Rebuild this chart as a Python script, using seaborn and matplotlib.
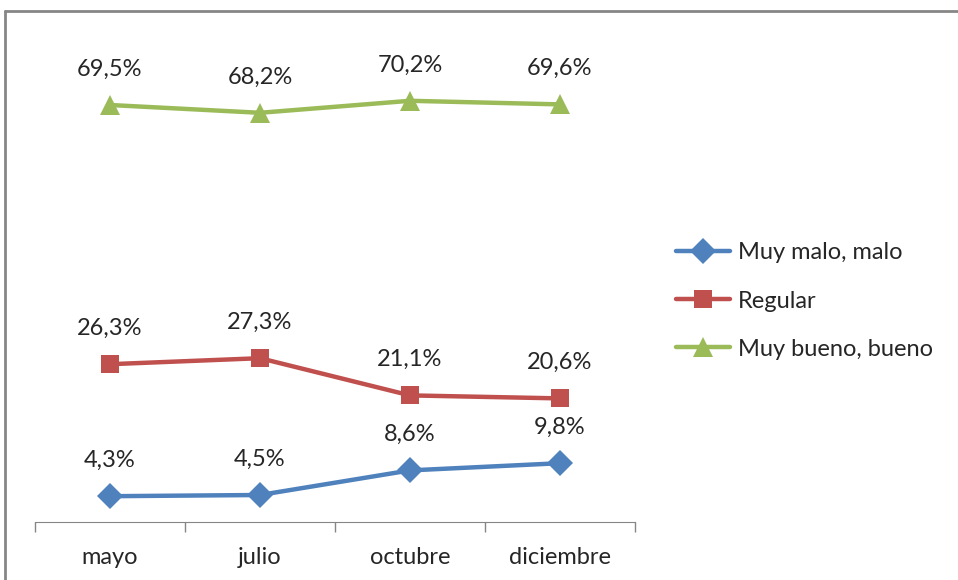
import pandas as pd
import numpy as np
import matplotlib.pyplot as plt
import seaborn as sns

meses = ["mayo", "julio", "octubre", "diciembre"]
muy_malo = [4.3, 4.5, 8.6, 9.8]
regular = [26.3, 27.3, 21.1, 20.6]
muy_bueno = [69.5, 68.2, 70.2, 69.6]

series = ["Muy malo, malo", "Regular", "Muy bueno, bueno"]
colores = ["#4F81BD", "#C0504D", "#9BBB59"]
marcadores = ["D", "s", "^"]
tamanos = [13, 13, 14]

sns.set_style("white")
plt.rcParams["font.family"] = ["Lato", "DejaVu Sans"]

fig = plt.figure(figsize=(9.58, 5.8), dpi=100)
ax = fig.add_axes([0.0365, 0.1, 0.6263, 0.8276])

pos = np.arange(len(meses))
for nombre, valores, c, m, ms in zip(series, [muy_malo, regular, muy_bueno], colores, marcadores, tamanos):
    df = pd.DataFrame({"x": pos, "valor": valores})
    sns.lineplot(data=df, x="x", y="valor", ax=ax, color=c, marker=m, markersize=ms,
                 markeredgewidth=0, linewidth=3.2, label=nombre, sort=False)
    for xi, v in zip(pos, valores):
        ax.annotate(f"{v:.1f}%".replace(".", ","), (xi, v), xytext=(0, 21),
                    textcoords="offset points", ha="center", va="baseline", fontsize=17)

ax.set_xlim(-0.5, 3.5)
ax.set_ylim(0, 80)
ax.set_xticks(pos)
ax.set_xticklabels(meses, fontsize=17)
ax.set_xticks(np.arange(-0.5, 4, 1), minor=True)
ax.tick_params(axis="x", which="both", bottom=True)
ax.tick_params(axis="x", which="major", length=0, pad=18)
ax.tick_params(axis="x", which="minor", length=7, color="#868686", width=1, direction="out")
ax.set_yticks([])
ax.set_xlabel("")
ax.set_ylabel("")
for s in ["top", "right", "left"]:
    ax.spines[s].set_visible(False)
ax.spines["bottom"].set_color("#868686")

ax.legend(loc="center left", bbox_to_anchor=(0.683, 0.481), bbox_transform=fig.transFigure,
          frameon=False, fontsize=17, handlelength=2.3, labelspacing=1.15, handletextpad=0.35)

# marco exterior estilo Excel
fig.add_artist(plt.Line2D([0.0055, 1.0], [0.981, 0.981], color="#868686", linewidth=2))
fig.add_artist(plt.Line2D([0.0055, 0.0055], [0.0, 0.981], color="#868686", linewidth=2))

fig.savefig("out.png", dpi=100)
